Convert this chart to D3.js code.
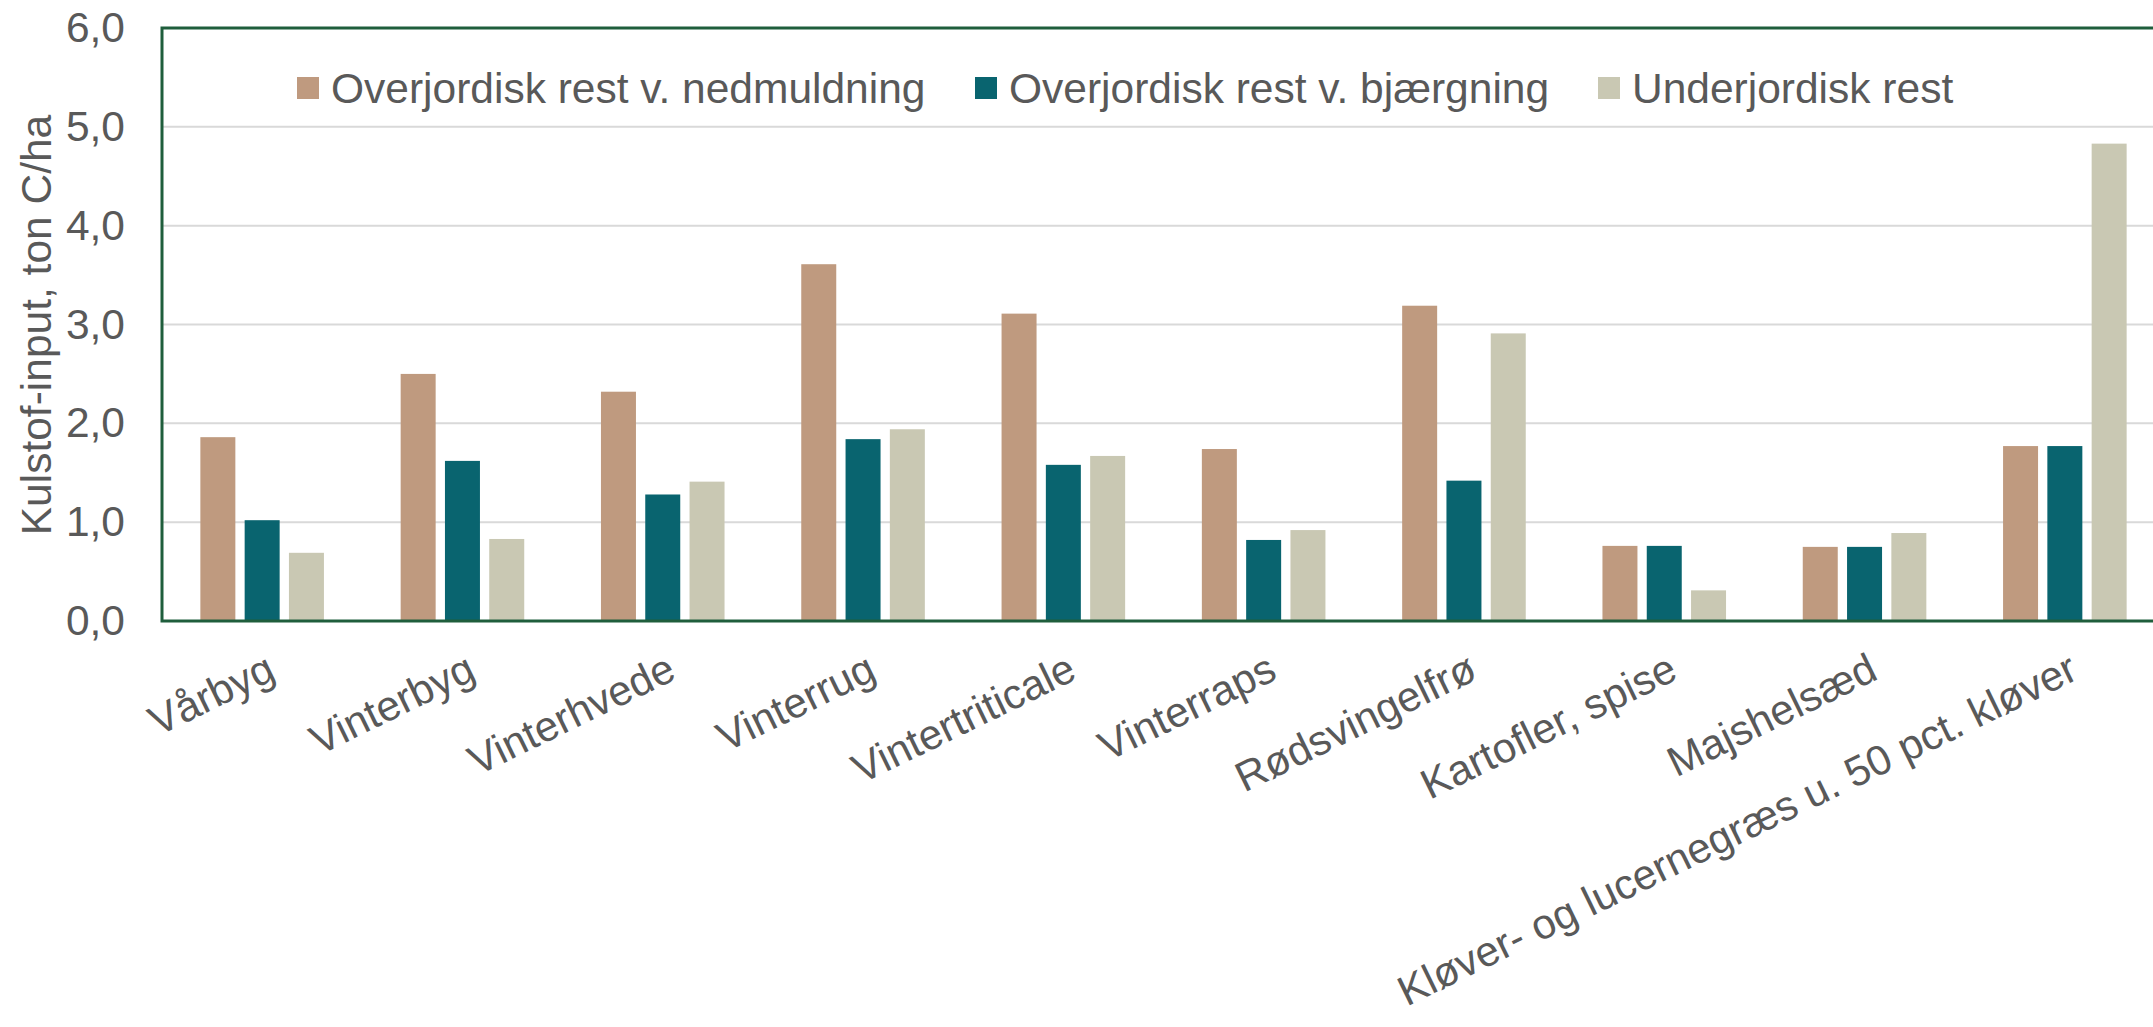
<!DOCTYPE html>
<html>
<head>
<meta charset="utf-8">
<script src="https://cdn.jsdelivr.net/npm/d3@7"></script>
<style>
    body { margin: 0; background: #fff; }
    #chart { width: 2153px; height: 1027px; }
    text { font-family: "Liberation Sans", Arial, sans-serif; fill: #595959; }
</style>
</head>
<body>
<div id="chart"></div>
<script>
(function () {
    "use strict";

    // categories and series
    const categories = ["Vårbyg", "Vinterbyg", "Vinterhvede", "Vinterrug", "Vintertriticale",
        "Vinterraps", "Rødsvingelfrø", "Kartofler, spise", "Majshelsæd",
        "Kløver- og lucernegræs u. 50 pct. kløver"];
    const seriesNames = ["Overjordisk rest v. nedmuldning", "Overjordisk rest v. bjærgning", "Underjordisk rest"];
    const nedmuldning = [1.86, 2.50, 2.32, 3.61, 3.11, 1.74, 3.19, 0.76, 0.75, 1.77];
    const bjaergning = [1.02, 1.62, 1.28, 1.84, 1.58, 0.82, 1.42, 0.76, 0.75, 1.77];
    const underjordisk = [0.69, 0.83, 1.41, 1.94, 1.67, 0.92, 2.91, 0.31, 0.89, 4.83];
    const yTicks = [0, 1, 2, 3, 4, 5, 6];
    const yTitle = "Kulstof-input, ton C/ha";

    const colors = ["#BF9A7F", "#09646F", "#C9C8B3"];
    const BORDER = "#1F5E3C";
    const FONT = 42.5;

    const width = 2153, height = 1027;
    const left = 162, right = 2165, top = 28, bottom = 621;

    let svg = d3.select("#chart").append("svg")
        .attr("width", width).attr("height", height);

    let x0 = d3.scaleBand().domain(categories).range([left, right]);
    let x1 = d3.scaleBand().domain(seriesNames).range([0, x0.bandwidth()])
        .paddingInner(0.21).paddingOuter(0.866);
    let y = d3.scaleLinear().domain([0, 6]).range([bottom, top]);

    // gridlines
    svg.append("g")
        .selectAll("line")
        .data(yTicks.filter(d => d > 0 && d < 6))
        .enter().append("line")
        .attr("x1", left).attr("x2", width)
        .attr("y1", d => y(d)).attr("y2", d => y(d))
        .attr("stroke", "#D9D9D9").attr("stroke-width", 2);

    // y axis labels
    let yAxis = svg.append("g")
        .attr("transform", `translate(${left - 37},0)`)
        .call(d3.axisLeft(y).tickValues(yTicks).tickSize(0).tickPadding(0)
            .tickFormat(d => d3.format(".1f")(d).replace(".", ",")));
    yAxis.select(".domain").remove();
    yAxis.selectAll("text")
        .attr("font-size", FONT)
        .attr("fill", "#595959")
        .attr("font-family", "Liberation Sans, Arial, sans-serif");

    svg.append("text")
        .attr("transform", `translate(51,325) rotate(-90)`)
        .attr("text-anchor", "middle")
        .attr("font-size", FONT)
        .text(yTitle);

    // bars
    const series = [nedmuldning, bjaergning, underjordisk];
    let groups = svg.append("g")
        .selectAll("g")
        .data(categories)
        .enter().append("g")
        .attr("transform", d => `translate(${x0(d)},0)`);

    groups.selectAll("rect")
        .data((c, i) => series.map((s, k) => ({ name: seriesNames[k], value: s[i], k: k })))
        .enter().append("rect")
        .attr("x", d => x1(d.name))
        .attr("width", x1.bandwidth())
        .attr("y", d => y(d.value))
        .attr("height", d => y(0) - y(d.value))
        .attr("fill", d => colors[d.k]);

    // plot frame (right side falls off the canvas)
    svg.append("rect")
        .attr("x", left).attr("y", top)
        .attr("width", right - left).attr("height", bottom - top)
        .attr("fill", "none")
        .attr("stroke", BORDER).attr("stroke-width", 3);

    // category labels, rotated
    svg.append("g")
        .selectAll("text")
        .data(categories)
        .enter().append("text")
        .attr("transform", d => `translate(${x0(d) + x0.bandwidth() / 2 + 2},${bottom + 30}) rotate(-26)`)
        .attr("text-anchor", "end")
        .attr("dy", "0.72em")
        .attr("font-size", 42)
        .text(d => d);

    // legend
    const legendX = [297, 975, 1598];
    let legend = svg.append("g")
        .selectAll("g")
        .data(seriesNames)
        .enter().append("g")
        .attr("transform", (d, i) => `translate(${legendX[i]},77)`);

    legend.append("rect")
        .attr("width", 22).attr("height", 22)
        .attr("fill", (d, i) => colors[i]);

    legend.append("text")
        .attr("x", 34).attr("y", 11)
        .attr("dy", "0.36em")
        .attr("font-size", FONT)
        .text(d => d);
})();
</script>
</body>
</html>
